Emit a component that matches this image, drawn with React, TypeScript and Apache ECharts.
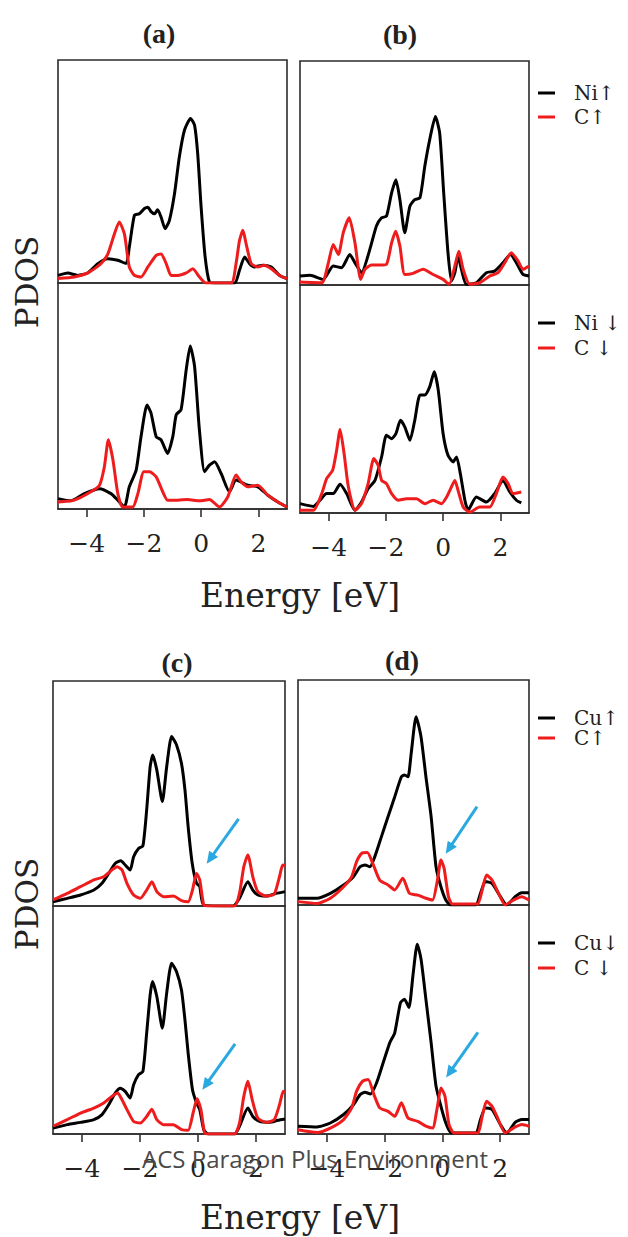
import React, { useEffect, useRef } from "react";
import * as echarts from "echarts";

// ---------- DATA (energy in eV, PDOS in % of panel height) ----------
const tickValues = [-4, -2, 0, 2];

// (a) Ni, spin up / down
const niUpA: number[][] = [[-5,3.4],[-4.66,4.5],[-4.31,3.4],[-3.96,4.5],[-3.61,8.7],[-3.26,10.9],[-2.91,10.2],[-2.62,8.7],[-2.51,16],[-2.33,30.4],[-2.16,31],[-1.98,33.4],[-1.86,34],[-1.75,32],[-1.63,31],[-1.52,32.8],[-1.4,29.6],[-1.26,24.4],[-1.11,28],[-0.93,40],[-0.76,56.6],[-0.58,68.6],[-0.37,73.8],[-0.23,70.8],[-0.12,58],[0,34],[0.14,11.7],[0.29,0.4],[0.47,0],[1.17,0],[1.34,5.7],[1.52,11.7],[1.69,8.7],[1.86,7.2],[2.16,8],[2.45,7.2],[2.74,3.4],[3,2]];
const cUpA: number[][] = [[-5,2],[-4.43,2.7],[-3.96,4.5],[-3.5,8.7],[-3.26,13],[-3.03,22],[-2.86,27.4],[-2.68,22],[-2.51,7.2],[-2.33,3.4],[-2.1,2.7],[-1.86,7.2],[-1.57,12.4],[-1.4,13],[-1.22,8.7],[-1.05,3.4],[-0.82,3.4],[-0.52,4.5],[-0.29,6.4],[-0.06,2.7],[0.17,0],[1.05,0],[1.22,8.7],[1.34,19],[1.46,23.6],[1.57,17.7],[1.75,8.7],[1.98,7.2],[2.21,8],[2.45,6.4],[2.74,3.4],[3,2]];
const niDnA: number[][] = [[-5,4.6],[-4.55,3.6],[-4.08,6.8],[-3.55,9],[-3.15,6.8],[-2.91,3.9],[-2.68,0.9],[-2.51,9.8],[-2.27,17.2],[-2.1,32],[-1.89,46],[-1.75,42.4],[-1.57,32],[-1.4,30.6],[-1.17,24.6],[-0.99,32],[-0.87,41.7],[-0.7,44],[-0.52,61.7],[-0.38,72.1],[-0.23,63.2],[-0.06,35],[0.12,16.5],[0.29,19.4],[0.47,20.9],[0.7,15.7],[0.99,7.6],[1.22,12.8],[1.63,10.5],[1.98,9.8],[2.33,6.1],[2.68,3.1],[3,0.9]];
const cDnA: number[][] = [[-5,3.1],[-4.43,3.9],[-3.85,7.6],[-3.55,10.5],[-3.38,18.7],[-3.24,30.6],[-3.08,21.7],[-2.91,6.8],[-2.74,0.9],[-2.39,0.9],[-2.21,6.8],[-2,16.5],[-1.8,16.5],[-1.57,14.2],[-1.34,7.6],[-1.17,3.9],[-0.82,3.9],[-0.47,4.2],[-0.06,3.6],[0.29,4.2],[0.64,0.9],[0.93,5.3],[1.22,15],[1.4,12],[1.63,9.8],[1.98,10.5],[2.33,6.1],[2.68,3.1],[3,0.9]];

// (b) Ni, spin up / down
const niUpB: number[][] = [[-5,4],[-4.65,4.3],[-4.19,2.5],[-3.84,8.5],[-3.55,7.7],[-3.26,13.6],[-3.08,9.9],[-2.85,5.5],[-2.56,15.9],[-2.33,26.3],[-2.15,30],[-1.98,30.7],[-1.8,41.1],[-1.65,47],[-1.51,38.1],[-1.34,23.3],[-1.16,35.2],[-0.99,38.1],[-0.81,38.9],[-0.64,53],[-0.47,64.8],[-0.27,75.2],[-0.12,67.8],[0.02,41.1],[0.17,14.4],[0.29,1.8],[0.41,5.5],[0.52,12.9],[0.64,7],[0.81,0.3],[1.16,1],[1.51,5.5],[1.8,6.2],[2.09,9.9],[2.35,13.6],[2.62,8.5],[2.79,4.7],[3,4]];
const cUpB: number[][] = [[-5,1.3],[-4.24,1],[-4.01,9.9],[-3.84,18.1],[-3.66,13.6],[-3.49,23.3],[-3.28,30],[-3.08,18.8],[-2.88,2.5],[-2.73,7],[-2.5,8.9],[-2.21,8.9],[-1.98,9.2],[-1.8,18.8],[-1.66,24],[-1.51,17.4],[-1.34,4.7],[-1.05,5.2],[-0.7,7],[-0.35,4.7],[0,2.5],[0.21,0.3],[0.41,8.5],[0.55,15.1],[0.7,7],[0.93,0.3],[1.28,1],[1.63,4],[1.92,5.5],[2.15,9.9],[2.38,14.4],[2.62,10.7],[2.79,7],[3,8.5]];
const niDnB: number[][] = [[-5,4.1],[-4.53,2.9],[-4.3,5.6],[-4.07,8.5],[-3.84,8.5],[-3.6,12.6],[-3.37,8.5],[-3.08,1.2],[-2.85,4.8],[-2.62,10.7],[-2.38,14.3],[-2.15,24.6],[-1.98,34.1],[-1.8,32.6],[-1.65,34.8],[-1.49,40.7],[-1.34,37.8],[-1.16,31.9],[-0.99,40.7],[-0.81,51.7],[-0.64,51.7],[-0.47,55.3],[-0.31,61.9],[-0.17,53.9],[0,34.8],[0.17,25.3],[0.35,22.4],[0.47,24.6],[0.6,17.3],[0.76,5.6],[0.87,1.2],[1.16,7],[1.51,4.8],[1.8,8.5],[2.09,14.3],[2.33,9.2],[2.56,5.6],[2.73,4.4]];
const cDnB: number[][] = [[-5,1.2],[-4.53,1.2],[-4.24,8.5],[-4.07,15.1],[-3.86,18.7],[-3.72,27.5],[-3.6,36.6],[-3.46,26.1],[-3.31,11.4],[-3.08,1.2],[-2.85,4.1],[-2.62,12.9],[-2.42,23.9],[-2.27,20.9],[-2.15,14.3],[-1.98,12.9],[-1.8,8.5],[-1.57,5.6],[-1.28,6.3],[-0.93,6.3],[-0.64,4.1],[-0.35,5.6],[-0.06,4.1],[0.12,7],[0.29,11.4],[0.41,14.3],[0.52,10],[0.7,2.6],[0.93,0.4],[1.28,2.6],[1.63,2.6],[1.86,8.5],[2.09,15.8],[2.27,12.9],[2.44,8.5],[2.73,9.2]];

// (c) Cu, spin up / down
const cuUpC: number[][] = [[-5,1.9],[-4.51,3.4],[-4.05,4.9],[-3.59,7.1],[-3.31,10.1],[-3.08,14.5],[-2.85,19],[-2.66,20.1],[-2.51,18.2],[-2.34,16],[-2.22,21.9],[-2.05,25.6],[-1.9,26.7],[-1.77,42.7],[-1.65,61.9],[-1.56,67.1],[-1.42,60.4],[-1.23,46.4],[-1.08,61.9],[-0.91,75.3],[-0.74,71.6],[-0.57,63.4],[-0.45,51.6],[-0.34,35.3],[-0.2,19],[-0.05,10.1],[0.06,8.6],[0.2,0.4],[1.21,0],[1.43,3.4],[1.72,10.8],[1.89,7.1],[2.06,4.9],[2.35,4.4],[2.69,5.6],[3,6.4]];
const cUpC: number[][] = [[-5,2.7],[-4.51,5.6],[-4.05,8.6],[-3.59,11.6],[-3.25,13],[-2.97,16],[-2.79,17.5],[-2.62,16],[-2.45,10.1],[-2.22,4.9],[-1.99,3.4],[-1.77,7.1],[-1.59,10.8],[-1.42,6.4],[-1.19,4.1],[-0.85,4.4],[-0.57,2.4],[-0.34,1.9],[-0.19,7.1],[-0.05,14.5],[0.06,11.6],[0.2,0.4],[0.35,0],[1.26,0],[1.43,5.6],[1.58,17.5],[1.72,22.7],[1.89,13],[2.06,6.4],[2.35,4.4],[2.63,5.3],[2.81,13],[2.92,18.2],[3,17.8]];
const cuDnC: number[][] = [[-5,2.6],[-4.51,4.1],[-4.05,5.1],[-3.59,6.3],[-3.31,8.5],[-3.08,12.8],[-2.85,18],[-2.68,20.1],[-2.51,18.7],[-2.34,15.8],[-2.22,21.6],[-2.05,26],[-1.9,27.4],[-1.77,44.2],[-1.65,61],[-1.57,66.9],[-1.42,60.3],[-1.23,46.4],[-1.08,61.8],[-0.91,74.9],[-0.74,71.2],[-0.57,63.2],[-0.45,50.1],[-0.34,35.5],[-0.19,19.4],[-0.05,13.6],[0.06,10.7],[0.2,1.9],[0.35,0],[1.26,0],[1.43,3.4],[1.72,11.4],[1.89,7.7],[2.12,5.5],[2.46,5.1],[2.75,6],[3,6.6]];
const cDnC: number[][] = [[-5,3.4],[-4.51,6.3],[-4.05,9.2],[-3.59,11.4],[-3.25,13.6],[-2.97,16.5],[-2.77,18],[-2.62,15],[-2.45,10.7],[-2.22,5.5],[-1.99,4.8],[-1.77,7.7],[-1.59,10.9],[-1.42,6.3],[-1.19,4.1],[-0.85,4.1],[-0.57,1.9],[-0.34,1.6],[-0.17,9.2],[-0.03,15.5],[0.1,10.7],[0.23,0.4],[0.35,0],[1.26,0],[1.43,4.8],[1.58,16.5],[1.72,23.1],[1.87,15],[2.06,7],[2.35,5.1],[2.63,6.3],[2.81,12.8],[2.94,18.7],[3,18.2]];

// (d) Cu, spin up / down
const cuUpD: number[][] = [[-5,3],[-4.34,3],[-3.88,5.2],[-3.42,8.9],[-3.08,12.6],[-2.85,17],[-2.68,17.8],[-2.51,17],[-2.34,21.5],[-2.11,30.4],[-1.88,39.3],[-1.65,48.1],[-1.42,57],[-1.31,57.8],[-1.19,57],[-1.08,67.4],[-0.91,83.7],[-0.74,74.8],[-0.57,57],[-0.39,39.3],[-0.22,17],[-0.05,8.1],[0.12,2.2],[0.29,0],[1.15,0],[1.32,5.2],[1.49,10.4],[1.72,9.6],[2.01,3.7],[2.23,0],[2.52,3.7],[2.75,5.5],[3,5.5]];
const cUpD: number[][] = [[-5,1.5],[-4.34,0.7],[-3.88,3],[-3.42,8.1],[-3.14,12.6],[-2.97,19.3],[-2.79,23],[-2.6,23.3],[-2.39,17.8],[-2.17,11.1],[-1.88,8.9],[-1.65,6.7],[-1.37,11.9],[-1.14,5.2],[-0.85,4.4],[-0.57,3],[-0.34,2.2],[-0.17,11.1],[-0.05,20],[0.06,16.3],[0.21,3.7],[0.35,0.4],[1.21,0.4],[1.38,6.7],[1.53,13.3],[1.72,11.1],[1.89,6.7],[2.18,0],[2.46,2.2],[2.75,3.7],[3,2.2]];
const cuDnD: number[][] = [[-5,3.4],[-4.34,3.1],[-3.88,4.8],[-3.42,8.5],[-3.08,12.8],[-2.85,17.2],[-2.68,18.2],[-2.49,17.5],[-2.28,22.3],[-2.05,31.1],[-1.82,39.9],[-1.65,44.2],[-1.45,57.4],[-1.31,58.8],[-1.16,55.2],[-1.02,69.1],[-0.87,82.9],[-0.74,76.4],[-0.57,58.8],[-0.39,39.9],[-0.22,20.9],[-0.05,12.1],[0.12,4.8],[0.29,0.7],[1.15,0.4],[1.32,6.3],[1.49,11.4],[1.72,10.7],[2.01,4.1],[2.23,0.4],[2.52,5.1],[2.75,6.3],[3,6.3]];
const cDnD: number[][] = [[-5,1.9],[-4.34,0.7],[-3.88,2.6],[-3.42,6.3],[-3.14,11.4],[-2.97,18.7],[-2.76,23.1],[-2.57,23.8],[-2.37,17.2],[-2.17,11.4],[-1.88,9.9],[-1.65,7.7],[-1.42,13.6],[-1.19,7],[-0.85,5.5],[-0.57,3.4],[-0.34,2.6],[-0.17,12.1],[-0.05,20.1],[0.09,16.5],[0.23,4.1],[0.41,0.4],[1.21,0.4],[1.38,7.7],[1.53,14.3],[1.72,12.1],[1.89,7.7],[2.18,0.4],[2.46,2.6],[2.75,4.1],[3,3.4]];

// arrows (blue) in panels c/d: [start, end] in data coords
const arrowC_up = [[1.4, 38.7], [0.42, 21.0]];
const arrowC_dn = [[1.28, 39.5], [0.27, 21.5]];
const arrowD_up = [[1.2, 43.7], [0.23, 25.0]];
const arrowD_dn = [[1.23, 44.4], [0.25, 26.8]];

const panelTitles = ["(a)", "(b)", "(c)", "(d)"];
const legendNi = [["Ni↑", "C↑"], ["Ni ↓", "C ↓"]];
const legendCu = [["Cu↑", "C↑"], ["Cu↓", "C ↓"]];
const axisTitle = "Energy [eV]";
const yTitle = "PDOS";
const watermark = "ACS Paragon Plus Environment";

// ---------- LAYOUT ----------
const panels = [
  { g: { left: 58, top: 60, width: 229, height: 223 }, k: niUpA, r: cUpA, kn: "Ni↑", rn: "C↑", bottom: false, arrow: null },
  { g: { left: 58, top: 283, width: 229, height: 226 }, k: niDnA, r: cDnA, kn: "Ni ↓", rn: "C ↓", bottom: true, arrow: null },
  { g: { left: 300, top: 61, width: 229, height: 224 }, k: niUpB, r: cUpB, kn: "Ni↑", rn: "C↑", bottom: false, arrow: null },
  { g: { left: 300, top: 285, width: 229, height: 228 }, k: niDnB, r: cDnB, kn: "Ni ↓", rn: "C ↓", bottom: true, arrow: null },
  { g: { left: 53, top: 681, width: 232, height: 225 }, k: cuUpC, r: cUpC, kn: "Cu↑", rn: "C↑", bottom: false, arrow: arrowC_up },
  { g: { left: 53, top: 906, width: 232, height: 228 }, k: cuDnC, r: cDnC, kn: "Cu↓", rn: "C ↓", bottom: true, arrow: arrowC_dn },
  { g: { left: 298, top: 680, width: 231, height: 225 }, k: cuUpD, r: cUpD, kn: "Cu↑", rn: "C↑", bottom: false, arrow: arrowD_up },
  { g: { left: 298, top: 905, width: 231, height: 229 }, k: cuDnD, r: cDnD, kn: "Cu↓", rn: "C ↓", bottom: true, arrow: arrowD_dn },
];

const titlePos = [[159, 33], [400, 34], [177, 662], [402, 660]];
const legendPos = [
  { labels: legendNi[0], y: [93, 117] },
  { labels: legendNi[1], y: [323, 348] },
  { labels: legendCu[0], y: [718, 738] },
  { labels: legendCu[1], y: [943, 968] },
];

const INK = "#222";
const RED = "#ee1c1c";
const BLUE = "#2aa8e0";
const SERIF = "DejaVu Serif";

const fmt = (v: number) => (v < 0 ? "\u2212" + Math.abs(v) : String(v));

function buildOption() {
  const grid = panels.map((p) => ({
    ...p.g,
    show: true,
    borderColor: "#2b2b2b",
    borderWidth: 1.6,
    backgroundColor: "transparent",
    containLabel: false,
  }));
  const xAxis = panels.map((p, i) => ({
    type: "value",
    gridIndex: i,
    min: -5,
    max: 3,
    axisLine: { show: p.bottom, lineStyle: { color: "#2b2b2b", width: 1.6 } },
    splitLine: { show: false },
    axisTick: {
      show: p.bottom,
      customValues: tickValues,
      length: 8,
      inside: false,
      lineStyle: { color: "#333", width: 1.6 },
    },
    axisLabel: {
      show: p.bottom,
      customValues: tickValues,
      formatter: fmt,
      margin: 22,
      fontFamily: SERIF,
      fontSize: 25,
      color: INK,
    },
  }));
  const yAxis = panels.map((_, i) => ({
    type: "value",
    gridIndex: i,
    min: 0,
    max: 100,
    axisLine: { show: false },
    axisTick: { show: false },
    axisLabel: { show: false },
    splitLine: { show: false },
  }));
  const series: any[] = [];
  panels.forEach((p, i) => {
    series.push({
      type: "line",
      name: p.kn,
      xAxisIndex: i,
      yAxisIndex: i,
      data: p.k,
      showSymbol: false,
      smooth: 0.2,
      lineStyle: { color: "#000", width: 3 },
      itemStyle: { color: "#000" },
      z: 2,
    });
    const red: any = {
      type: "line",
      name: p.rn,
      xAxisIndex: i,
      yAxisIndex: i,
      data: p.r,
      showSymbol: false,
      smooth: 0.2,
      lineStyle: { color: RED, width: 3 },
      itemStyle: { color: RED },
      z: 3,
    };
    if (p.arrow) {
      red.markLine = {
        silent: true,
        animation: false,
        symbol: ["none", "triangle"],
        symbolSize: [11, 12],
        label: { show: false },
        lineStyle: { color: BLUE, width: 3, type: "solid" },
        emphasis: { disabled: true },
        data: [[{ coord: p.arrow[0] }, { coord: p.arrow[1] }]],
      };
    }
    series.push(red);
  });

  const graphic: any[] = [];
  panelTitles.forEach((t, i) => {
    graphic.push({
      type: "text",
      x: titlePos[i][0],
      y: titlePos[i][1],
      style: {
        text: t,
        align: "center",
        verticalAlign: "middle",
        font: "bold 28px 'Liberation Serif', serif",
        fill: INK,
      },
    });
  });
  legendPos.forEach((lg) => {
    lg.labels.forEach((lab, j) => {
      const col = j === 0 ? "#000" : RED;
      graphic.push({
        type: "rect",
        shape: { x: 538, y: lg.y[j] - 1.5, width: 17, height: 3 },
        style: { fill: col },
      });
      graphic.push({
        type: "text",
        x: 574,
        y: lg.y[j],
        style: {
          text: lab,
          align: "left",
          verticalAlign: "middle",
          font: `20px '${SERIF}', serif`,
          fill: INK,
        },
      });
    });
  });
  [[300, 595], [300, 1217]].forEach(([x, y]) => {
    graphic.push({
      type: "text",
      x,
      y,
      style: {
        text: axisTitle,
        align: "center",
        verticalAlign: "middle",
        font: `33px '${SERIF}', serif`,
        fill: INK,
      },
    });
  });
  [[27, 282], [27, 904]].forEach(([x, y]) => {
    graphic.push({
      type: "text",
      x,
      y,
      rotation: Math.PI / 2,
      style: {
        text: yTitle,
        align: "center",
        verticalAlign: "middle",
        font: `31px '${SERIF}', serif`,
        fill: INK,
      },
    });
  });
  graphic.push({
    type: "text",
    x: 142,
    y: 1158,
    z: 100,
    style: {
      text: watermark,
      align: "left",
      verticalAlign: "middle",
      font: "24px 'Open Sans', sans-serif",
      fill: "#4a4a4a",
    },
  });

  return {
    animation: false,
    backgroundColor: "#fff",
    grid,
    xAxis,
    yAxis,
    series,
    graphic,
  };
}

export default function App() {
  const ref = useRef<HTMLDivElement>(null);
  useEffect(() => {
    if (!ref.current) return;
    const chart = echarts.init(ref.current, undefined, { renderer: "svg" });
    chart.setOption(buildOption() as any);
    return () => chart.dispose();
  }, []);
  return (
    <div
      ref={ref}
      style={{ position: "absolute", left: 0, top: 0, width: 628, height: 1237, background: "#fff" }}
    />
  );
}
